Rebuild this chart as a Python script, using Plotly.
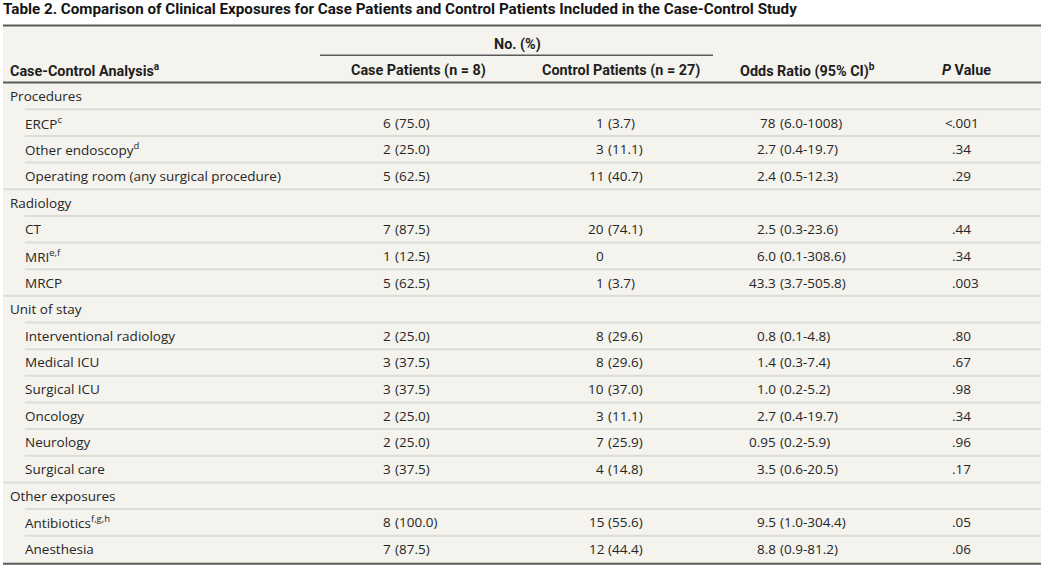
import plotly.graph_objects as go

# ---- data ----
labels = ["Procedures", "ERCP<sup>c</sup>", "Other endoscopy<sup>d</sup>",
          "Operating room (any surgical procedure)", "Radiology", "CT",
          "MRI<sup>e,f</sup>", "MRCP", "Unit of stay", "Interventional radiology",
          "Medical ICU", "Surgical ICU", "Oncology", "Neurology", "Surgical care",
          "Other exposures", "Antibiotics<sup>f,g,h</sup>", "Anesthesia"]
is_section = [True, False, False, False, True, False, False, False, True,
              False, False, False, False, False, False, True, False, False]
case_pts = ["", "6 (75.0)", "2 (25.0)", "5 (62.5)", "", "7 (87.5)", "1 (12.5)",
            "5 (62.5)", "", "2 (25.0)", "3 (37.5)", "3 (37.5)", "2 (25.0)",
            "2 (25.0)", "3 (37.5)", "", "8 (100.0)", "7 (87.5)"]
control_pts = ["", "1 (3.7)", "3 (11.1)", "11 (40.7)", "", "20 (74.1)", "0",
               "1 (3.7)", "", "8 (29.6)", "8 (29.6)", "10 (37.0)", "3 (11.1)",
               "7 (25.9)", "4 (14.8)", "", "15 (55.6)", "12 (44.4)"]
odds_ratio = ["", "78 (6.0-1008)", "2.7 (0.4-19.7)", "2.4 (0.5-12.3)", "",
              "2.5 (0.3-23.6)", "6.0 (0.1-308.6)", "43.3 (3.7-505.8)", "",
              "0.8 (0.1-4.8)", "1.4 (0.3-7.4)", "1.0 (0.2-5.2)", "2.7 (0.4-19.7)",
              "0.95 (0.2-5.9)", "3.5 (0.6-20.5)", "", "9.5 (1.0-304.4)",
              "8.8 (0.9-81.2)"]
p_values = ["", "<.001", ".34", ".29", "", ".44", ".34", ".003", "", ".80",
            ".67", ".98", ".34", ".96", ".17", "", ".05", ".06"]

title = ("Table 2. Comparison of Clinical Exposures for Case Patients and "
         "Control Patients Included in the Case-Control Study")
col_headers = ["Case-Control Analysis<sup>a</sup>", "Case Patients (n = 8)",
               "Control Patients (n = 27)", "Odds Ratio (95% CI)<sup>b</sup>",
               "<i>P</i> Value"]
group_header = "No. (%)"

# ---- styling ----
W, H = 1050, 572
BODY_FONT = "Open Sans, Lato, sans-serif"
HEAD_FONT = "Roboto, Liberation Sans, sans-serif"
BODY_SIZE = 13.5
HEAD_SIZE = 14.4
TXT = "#262626"
BG = "#f4f3ed"
RULE = "#dcdbd5"
DARK = "#5a5a5a"
X0, X1 = 3, 1041

n = len(labels)
fig = go.Figure()
ann = []
shapes = []


def cell(x, y, text, anchor, font=BODY_FONT, size=BODY_SIZE, color=TXT, weight=500):
    ann.append(dict(x=x, y=y, xref="x", yref="y", text=text, showarrow=False,
                    xanchor=anchor, yanchor="middle", borderpad=0, borderwidth=0,
                    font=dict(family=font, size=size, color=color, weight=weight)))


def split_at(s, ch):
    k = s.find(ch)
    if k < 0:
        return s, ""
    return s[:k].rstrip(), s[k:]


# background panel
shapes.append(dict(type="rect", xref="x", yref="y", x0=X0, x1=X1, y0=-2.65,
                   y1=n - 0.45, fillcolor=BG, line=dict(width=0), layer="below"))

# rows
for i in range(n):
    cell(10 if is_section[i] else 25, i, labels[i], "left")
    for s, xr in ((case_pts[i], 391), (control_pts[i], 604), (odds_ratio[i], 776)):
        if not s:
            continue
        a, b = split_at(s, "(")
        cell(xr, i, a, "right")
        if b:
            cell(xr + 4, i, b, "left")
    if p_values[i]:
        a, b = split_at(p_values[i], ".")
        if a:
            cell(953, i, a, "right")
        cell(952, i, b, "left")
    if i < n - 1:
        xs = X0 if is_section[i + 1] else 25
        shapes.append(dict(type="line", xref="x", yref="y", x0=xs, x1=X1,
                           y0=i + 0.5, y1=i + 0.5, line=dict(color=RULE, width=2)))

# header
hy = -0.95
cell(10, hy, col_headers[0], "left", HEAD_FONT, HEAD_SIZE, "#1e1e1e", 700)
for txt, xc in zip(col_headers[1:], (418, 621, 807, 966)):
    cell(xc, hy, txt, "center", HEAD_FONT, HEAD_SIZE, "#1e1e1e", 700)
cell(517, -1.93, group_header, "center", HEAD_FONT, HEAD_SIZE, "#1e1e1e", 700)
cell(3, -3.25, title, "left", HEAD_FONT, 15.2, "#151515", 700)

# rules
shapes.append(dict(type="line", xref="x", yref="y", x0=X0, x1=X1, y0=-2.65,
                   y1=-2.65, line=dict(color=DARK, width=2)))
shapes.append(dict(type="line", xref="x", yref="y", x0=320, x1=713, y0=-1.53,
                   y1=-1.53, line=dict(color=DARK, width=1.5)))
shapes.append(dict(type="line", xref="x", yref="y", x0=X0, x1=X1, y0=-0.51,
                   y1=-0.51, line=dict(color=DARK, width=2)))
shapes.append(dict(type="line", xref="x", yref="y", x0=X0, x1=X1, y0=n - 0.45,
                   y1=n - 0.45, line=dict(color=DARK, width=2)))

pitch = (549 - 96) / 17
fig.update_layout(
    width=W, height=H, margin=dict(l=0, r=0, t=0, b=0),
    paper_bgcolor="white", plot_bgcolor="white",
    xaxis=dict(range=[0, W], visible=False, fixedrange=True),
    yaxis=dict(range=[(H - 96) / pitch, -96 / pitch], visible=False, fixedrange=True),
    annotations=ann, shapes=shapes, showlegend=False,
)
fig.write_html("out.html", config={"displayModeBar": False},
               post_script="document.body.style.margin='0';document.body.style.overflow='hidden';")
